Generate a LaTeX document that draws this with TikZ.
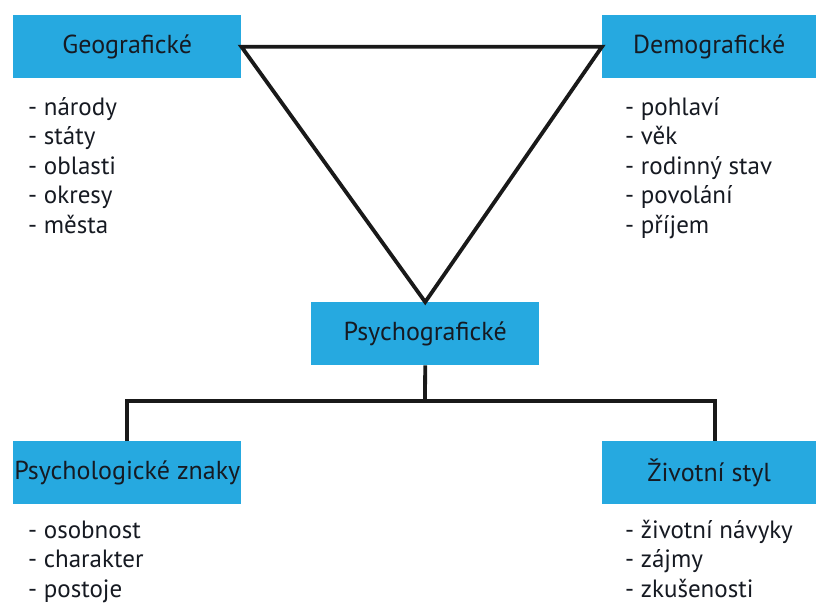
\documentclass[tikz,border=0pt]{standalone}
\usepackage{fontspec}
\setmainfont{PT Sans}
\definecolor{boxblue}{RGB}{38,169,224}
\definecolor{txt}{RGB}{22,26,34}
\begin{document}
\begin{tikzpicture}[x=1pt,y=-1pt,
  box/.style={fill=boxblue, draw=none, anchor=north west, inner sep=0pt,
    minimum height=63pt, text=txt, font=\fontsize{26}{30}\selectfont},
  listtext/.style={anchor=base west, inner sep=0pt, align=left, text=txt,
    font=\fontsize{25}{29.5}\selectfont},
  conn/.style={line width=3.8pt, draw=black!90}]
\useasboundingbox[fill=white] (0,0) rectangle (816,603);
\node[box, minimum width=228pt] (geo) at (13,15) {Geografické};
\node[box, minimum width=214pt] (demo) at (602,15) {Demografické};
\node[box, minimum width=228pt] (psy) at (311,302) {Psychografické};
\node[box, minimum width=228pt] (pz) at (13,441) {Psychologické znaky};
\node[box, minimum width=214pt] (zs) at (602,441) {Životní styl};
\draw[conn, line join=miter] (geo.east) -- (demo.west) -- (psy.north) -- cycle;
\coordinate (j) at (425,401);
\draw[conn] (psy.south) -- (j);
\draw[conn] (pz.north) |- (j) -| ([xshift=6pt]zs.north);
\node[listtext] (gl) at (28,233) {- národy\\- státy\\- oblasti\\- okresy\\- města};
\node[listtext] (dl) at (625,233) {- pohlaví\\- věk\\- rodinný stav\\- povolání\\- příjem};
\node[listtext] (pl) at (28,597) {- osobnost\\- charakter\\- postoje};
\node[listtext] (zl) at (625,597) {- životní návyky\\- zájmy\\- zkušenosti};
\end{tikzpicture}
\end{document}
